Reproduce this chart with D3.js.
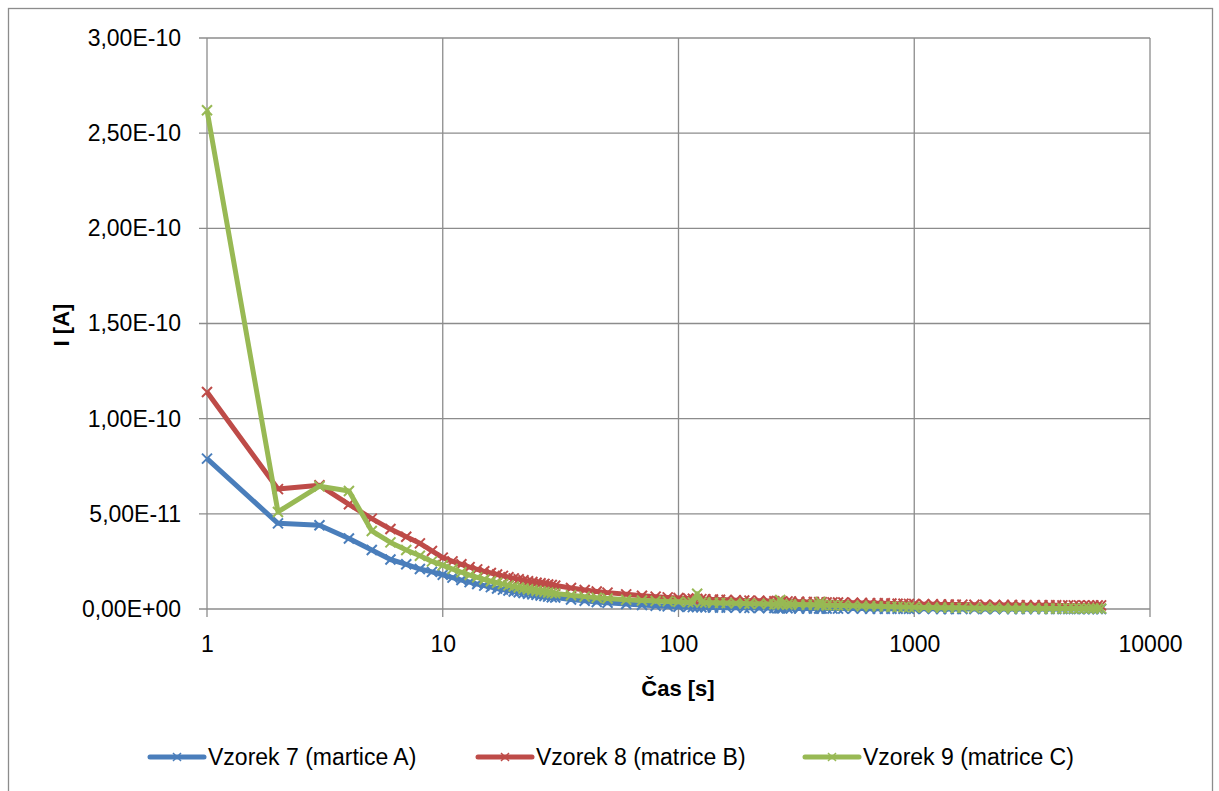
<!DOCTYPE html>
<html>
<head>
<meta charset="utf-8">
<script src="https://cdn.jsdelivr.net/npm/d3@7"></script>
<style>
  body { margin: 0; background: #fff; }
  svg { font-family: "Liberation Sans", Arial, sans-serif; }
  .grid line { stroke: #8c8c8c; stroke-width: 1.3; }
</style>
</head>
<body>
<svg id="chart" width="1219" height="791"></svg>
<script>
// time [s]
const times = [1, 2, 3, 4, 5, 6, 7, 8, 9, 10,
    11, 12, 13, 14, 15, 16, 17, 18, 19, 20,
    21, 22, 23, 24, 25, 26, 27, 28, 29, 30,
    35, 40, 45, 50,
    60, 70, 80, 90, 100,
    110, 115, 120, 125, 130, 140, 150, 160, 175, 190,
    200, 220, 240, 255, 265, 270, 275, 290, 300, 325,
    350, 375, 395, 400, 405, 425, 450, 475, 500, 550,
    600, 650, 700, 750, 800, 850, 900, 950, 1000, 1100,
    1200, 1300, 1400, 1500, 1600, 1800, 2000, 2200, 2400, 2600,
    2800, 3000, 3250, 3500, 3750, 4000, 4250, 4500, 4750, 5000,
    5250, 5500, 5750, 6000, 6200];

// current in units of 1e-11 A
const vzorek7 = [7.9, 4.5, 4.4, 3.7, 3.1, 2.6, 2.35, 2.1, 1.95, 1.8,
    1.65, 1.52, 1.41, 1.31, 1.23, 1.15, 1.08, 1.02, 0.97, 0.92,
    0.88, 0.84, 0.8, 0.77, 0.74, 0.71, 0.68, 0.65, 0.62, 0.6,
    0.5, 0.43, 0.37, 0.33,
    0.26, 0.21, 0.17, 0.14, 0.12,
    0.11, 0.10, 0.10, 0.09, 0.09, 0.08, 0.08, 0.07, 0.07, 0.06,
    0.06, 0.05, 0.05, 0.05, 0.04, 0.04, 0.04, 0.04, 0.04, 0.03,
    0.03, 0.03, 0.03, 0.03, 0.03, 0.02, 0.02, 0.02, 0.02, 0.02,
    0.02, 0.01, 0.01, 0.01, 0.01, 0.01, 0.01, 0.01, 0.01, 0.01,
    0.01, 0, 0, 0, 0, 0, 0, 0, 0, 0,
    0, 0, 0, 0, 0, 0, 0, 0, 0, 0,
    0, 0, 0, 0, 0];

const vzorek8 = [11.4, 6.3, 6.5, 5.5, 4.75, 4.2, 3.8, 3.45, 3.05, 2.7,
    2.5, 2.35, 2.2, 2.08, 1.98, 1.89, 1.81, 1.74, 1.67, 1.61,
    1.56, 1.51, 1.46, 1.42, 1.38, 1.35, 1.32, 1.29, 1.26, 1.23,
    1.1, 1.0, 0.92, 0.86,
    0.77, 0.7, 0.65, 0.61, 0.58,
    0.55, 0.54, 0.53, 0.52, 0.51, 0.50, 0.49, 0.48, 0.46, 0.45,
    0.44, 0.43, 0.42, 0.41, 0.41, 0.40, 0.40, 0.40, 0.39, 0.38,
    0.37, 0.37, 0.36, 0.36, 0.36, 0.35, 0.35, 0.34, 0.34, 0.33,
    0.32, 0.31, 0.30, 0.30, 0.29, 0.28, 0.28, 0.27, 0.26, 0.25,
    0.25, 0.24, 0.24, 0.23, 0.23, 0.22, 0.22, 0.21, 0.21, 0.21,
    0.20, 0.20, 0.20, 0.20, 0.20, 0.20, 0.19, 0.19, 0.19, 0.19,
    0.19, 0.19, 0.19, 0.19, 0.19];

const vzorek9 = [26.2, 5.1, 6.45, 6.2, 4.1, 3.5, 3.1, 2.8, 2.5, 2.3,
    2.1, 1.93, 1.78, 1.66, 1.55, 1.46, 1.38, 1.31, 1.24, 1.18,
    1.13, 1.08, 1.04, 1.0, 0.96, 0.93, 0.9, 0.87, 0.84, 0.82,
    0.72, 0.65, 0.59, 0.55,
    0.49, 0.45, 0.42, 0.4, 0.38,
    0.36, 0.35, 0.80, 0.35, 0.34, 0.33, 0.32, 0.31, 0.30, 0.29,
    0.28, 0.27, 0.26, 0.25, 0.25, 0.47, 0.25, 0.24, 0.24, 0.23,
    0.22, 0.22, 0.21, 0.37, 0.21, 0.20, 0.20, 0.19, 0.18, 0.17,
    0.16, 0.15, 0.14, 0.13, 0.12, 0.11, 0.10, 0.10, 0.09, 0.08,
    0.08, 0.07, 0.07, 0.06, 0.06, 0.05, 0.05, 0.05, 0.04, 0.04,
    0.04, 0.04, 0.04, 0.03, 0.03, 0.03, 0.03, 0.03, 0.03, 0.03,
    0.03, 0.03, 0.03, 0.03, 0.03];

const seriesNames = ["Vzorek 7 (martice A)", "Vzorek 8 (matrice B)", "Vzorek 9 (matrice C)"];
const seriesColors = ["#4a7ebb", "#be4b48", "#98b954"];
const xTicks = [1, 10, 100, 1000, 10000];
const yTicks = [0, 5e-11, 1e-10, 1.5e-10, 2e-10, 2.5e-10, 3e-10];

const series = [vzorek7, vzorek8, vzorek9].map((vals, i) => ({
    name: seriesNames[i],
    color: seriesColors[i],
    points: times.map((t, j) => ({ t: t, v: vals[j] * 1e-11 }))
}));

const svg = d3.select("#chart");
const margin = { left: 207, top: 38, right: 69, bottom: 182 };
const width = 1219 - margin.left - margin.right;
const height = 791 - margin.top - margin.bottom;

// outer chart border
svg.append("rect")
    .attr("x", 8.5).attr("y", 8.5)
    .attr("width", 1204).attr("height", 790)
    .attr("fill", "none")
    .attr("stroke", "#8c8c8c")
    .attr("stroke-width", 1.3);

const x = d3.scaleLog().domain([1, 10000]).range([0, width]);
const y = d3.scaleLinear().domain([0, 3e-10]).range([height, 0]);

const g = svg.append("g").attr("transform", `translate(${margin.left},${margin.top})`);

// Excel-like scientific format: 2,50E-10
function sci(v) {
    if (v === 0) return "0,00E+00";
    let s = d3.format(".2e")(v);
    let parts = s.split("e");
    let sign = parts[1][0];
    let exp = parts[1].slice(1).padStart(2, "0");
    return parts[0].replace(".", ",") + "E" + sign + exp;
}

// gridlines
const grid = g.append("g").attr("class", "grid");
grid.selectAll(".hgrid")
    .data(yTicks)
    .enter()
    .append("line")
    .attr("x1", -8).attr("x2", width)
    .attr("y1", d => y(d)).attr("y2", d => y(d));
grid.selectAll(".vgrid")
    .data(xTicks)
    .enter()
    .append("line")
    .attr("x1", d => x(d)).attr("x2", d => x(d))
    .attr("y1", 0).attr("y2", height + 8);

// axes (labels only; lines come from grid)
const yAxis = g.append("g")
    .call(d3.axisLeft(y).tickValues(yTicks).tickFormat(sci).tickSize(0).tickPadding(26));
yAxis.select(".domain").remove();
yAxis.selectAll("text")
    .attr("font-size", 23)
    .attr("font-family", "Liberation Sans, Arial, sans-serif")
    .attr("fill", "#000");

const xAxis = g.append("g")
    .attr("transform", `translate(0,${height})`)
    .call(d3.axisBottom(x).tickValues(xTicks).tickFormat(d3.format("d")).tickSize(0).tickPadding(27));
xAxis.select(".domain").remove();
xAxis.selectAll("text")
    .attr("font-size", 23)
    .attr("font-family", "Liberation Sans, Arial, sans-serif")
    .attr("fill", "#000");

// axis titles
svg.append("text")
    .attr("transform", "translate(69,325) rotate(-90)")
    .attr("text-anchor", "middle")
    .attr("font-size", 22)
    .attr("font-weight", "bold")
    .text("I [A]");

svg.append("text")
    .attr("x", 678).attr("y", 696)
    .attr("text-anchor", "middle")
    .attr("font-size", 22)
    .attr("font-weight", "bold")
    .text("Čas [s]");

// lines and markers
const line = d3.line()
    .x(d => x(d.t))
    .y(d => y(d.v));

const cross = "M-5,-5L5,5M-5,5L5,-5";

series.forEach(s => {
    const sg = g.append("g");
    sg.append("path")
        .datum(s.points)
        .attr("fill", "none")
        .attr("stroke", s.color)
        .attr("stroke-width", 5)
        .attr("stroke-linejoin", "round")
        .attr("d", line);
    sg.selectAll(".mark")
        .data(s.points)
        .enter()
        .append("path")
        .attr("transform", d => `translate(${x(d.t)},${y(d.v)})`)
        .attr("d", cross)
        .attr("stroke", s.color)
        .attr("stroke-width", 2)
        .attr("fill", "none");
});

// legend
const legendX = [150, 478, 805];
const legend = svg.append("g");
series.forEach((s, i) => {
    const lg = legend.append("g").attr("transform", `translate(${legendX[i]},757)`);
    lg.append("line")
        .attr("x1", 0).attr("x2", 54)
        .attr("y1", 0).attr("y2", 0)
        .attr("stroke", s.color)
        .attr("stroke-width", 5)
        .attr("stroke-linecap", "round");
    lg.append("path")
        .attr("transform", "translate(27,0)")
        .attr("d", "M-4,-4L4,4M-4,4L4,-4")
        .attr("stroke", s.color)
        .attr("stroke-width", 1.5);
    lg.append("text")
        .attr("x", 58).attr("y", 8)
        .attr("font-size", 23)
        .text(s.name);
});
</script>
</body>
</html>
